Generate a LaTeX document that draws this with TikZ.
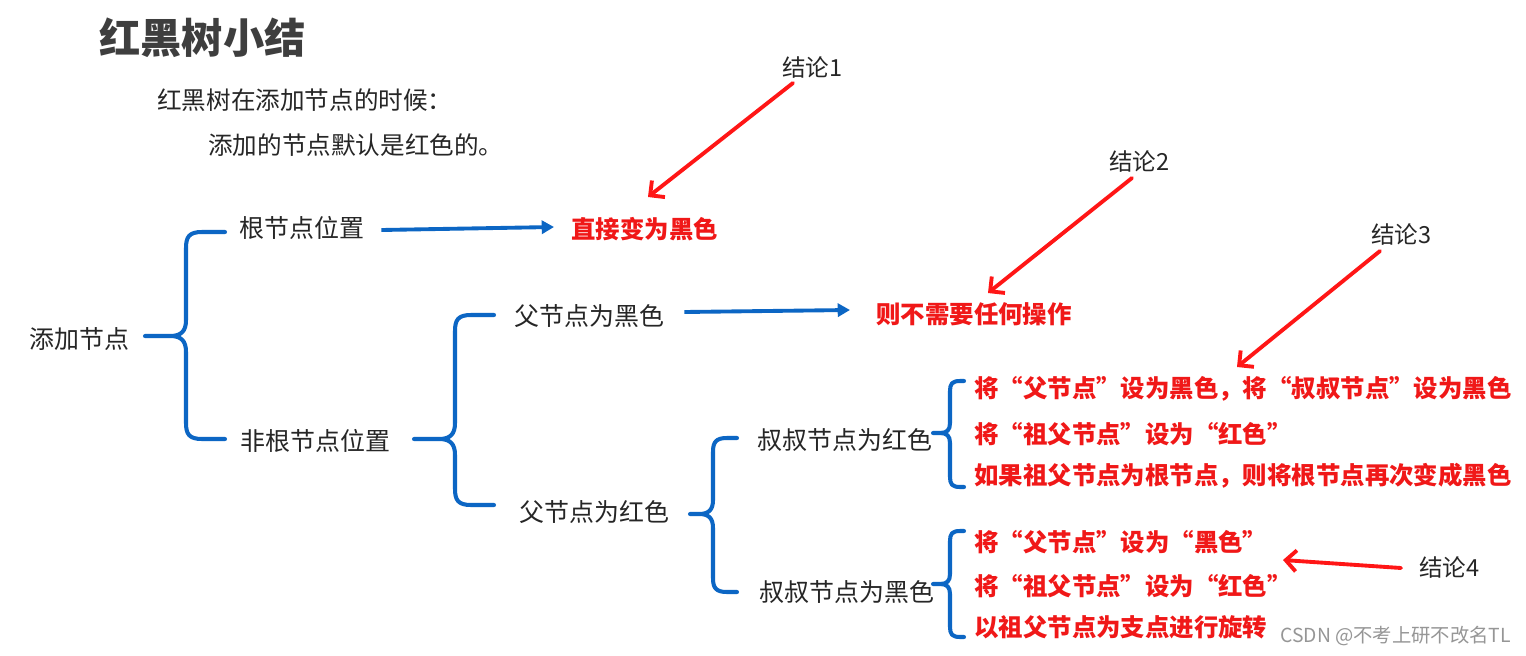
\documentclass[tikz,border=0pt]{standalone}
\usepackage{fontspec}
\newfontfamily\cjk{Noto Sans CJK SC}
\usetikzlibrary{arrows.meta,calc}
\definecolor{bblue}{RGB}{12,102,196}
\definecolor{rred}{RGB}{255,22,22}
\definecolor{tred}{RGB}{240,24,24}
\definecolor{tgray}{RGB}{38,38,38}
\definecolor{ttitle}{RGB}{62,62,62}
\definecolor{wgray}{RGB}{150,150,150}
\newcommand\drawbrace[7]{%
\draw[brace] (#6,#4) -- (#3+#7,#4) .. controls (#3+0.2*#7,#4) and (#3,#4+0.3*#7) .. (#3,#4+#7)
 -- (#3,#2-#7) .. controls (#3,#2-0.3*#7) and (#3-0.3*#7,#2) .. (#3-#7,#2) -- (#1,#2)
 (#3-#7,#2) .. controls (#3-0.3*#7,#2) and (#3,#2+0.3*#7) .. (#3,#2+#7)
 -- (#3,#5-#7) .. controls (#3,#5-0.3*#7) and (#3+0.2*#7,#5) .. (#3+#7,#5) -- (#6,#5);}
\begin{document}
\begin{tikzpicture}[x=0.02cm,y=-0.02cm,
  lbl/.style={anchor=west,inner sep=0,text=tgray,font=\cjk\fontsize{14.2}{17}\selectfont},
  res/.style={anchor=west,inner sep=0,text=tred,font=\cjk\bfseries\fontsize{13.9}{17}\selectfont},
  note/.style={anchor=west,inner sep=0,text=tgray,font=\cjk\fontsize{13.4}{16}\selectfont},
  brace/.style={draw=bblue,line width=2.3pt,line cap=round,line join=round},
  barrow/.style={draw=bblue,line width=2.2pt,-{Triangle[length=7pt,width=7.5pt]}},
  rarrow/.style={draw=rred,line width=2.2pt,line cap=round,-{Straight Barb[length=6pt,width=12pt]}}]
\fill[white] (0,0) rectangle (1526,656);
% title and intro
\node[anchor=west,inner sep=0,text=ttitle,font=\cjk\bfseries\fontsize{23.5}{27}\selectfont] (title) at (99,38) {红黑树小结};
\node[note,font=\cjk\fontsize{14}{16}\selectfont] (intro1) at (157,100) {红黑树在添加节点的时候：};
\node[note,font=\cjk\fontsize{14}{16}\selectfont] (intro2) at (208,145) {添加的节点默认是红色的。};
% tree labels
\node[lbl] (add) at (29,339) {添加节点};
\node[lbl] (root) at (239,228) {根节点位置};
\node[lbl] (nonroot) at (240,441) {非根节点位置};
\node[lbl] (pblack) at (514,316) {父节点为黑色};
\node[lbl] (pred) at (519,512) {父节点为红色};
\node[lbl] (ured) at (757,440) {叔叔节点为红色};
\node[lbl] (ublack) at (759,592) {叔叔节点为黑色};
% results
\node[res] (direct) at (571,229) {直接变为黑色};
\node[res] (none) at (876,314) {则不需要任何操作};
\node[res] (r1) at (974,389) {将“父节点”设为黑色，将“叔叔节点”设为黑色};
\node[res] (r2) at (974,434) {将“祖父节点”设为“红色”};
\node[res] (r3) at (974,476) {如果祖父节点为根节点，则将根节点再次变成黑色};
\node[res] (b1) at (974,542) {将“父节点”设为“黑色”};
\node[res] (b2) at (974,586) {将“祖父节点”设为“红色”};
\node[res] (b3) at (974,627) {以祖父节点为支点进行旋转};
% conclusions
\node[note] (c1) at (782,68) {结论1};
\node[note] (c2) at (1109,162) {结论2};
\node[note] (c3) at (1371,235) {结论3};
\node[note] (c4) at (1419,568) {结论4};
% braces
\drawbrace{145}{336}{186}{232}{439}{225}{16}
\drawbrace{414}{439}{455}{315}{505}{494}{16}
\drawbrace{690}{514}{713}{438}{592}{737}{14}
\drawbrace{933}{433}{950}{381}{487}{964}{10}
\drawbrace{933}{584}{950}{531}{637}{964}{10}
% blue arrows
\draw[barrow] ($(root.east)+(17,2)$) -- ($(direct.west)+(-17,-2)$);
\draw[barrow] ($(pblack.east)+(20,-4)$) -- ($(none.west)+(-26,-4)$);
% red arrows
\coordinate (c1s) at (793,83);
\coordinate (c1e) at (648,197);
\coordinate (c2s) at (1132,178);
\coordinate (c2e) at (988,293);
\coordinate (c3s) at (1380,251);
\coordinate (c3e) at (1237,367);
\coordinate (c4s) at (1401,568);
\coordinate (c4e) at (1283,560);
\draw[rarrow] (c1s) -- (c1e);
\draw[rarrow] (c2s) -- (c2e);
\draw[rarrow] (c3s) -- (c3e);
\draw[rarrow] (c4s) -- (c4e);
% watermark
\node[anchor=west,inner sep=0,text=wgray,font=\cjk\fontsize{11}{12}\selectfont] (wm) at (1280,636) {CSDN @不考上研不改名TL};
\end{tikzpicture}
\end{document}
